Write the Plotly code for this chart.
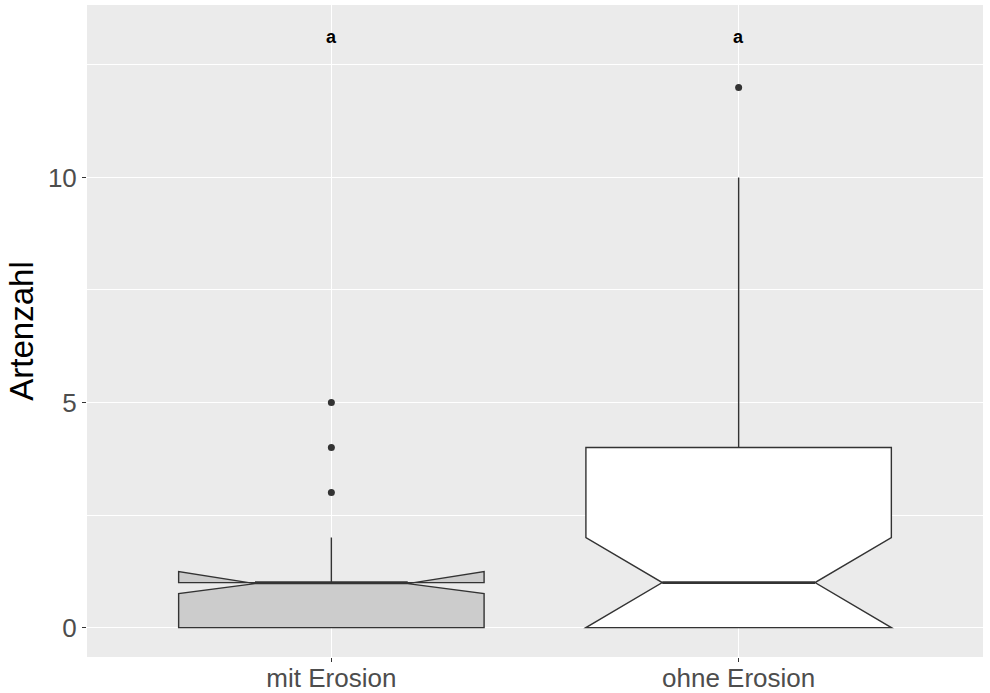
import plotly.graph_objects as go

categories = ["mit Erosion", "ohne Erosion"]
positions = [1, 2]
q1 = [0, 0]
median = [1, 1]
q3 = [1, 4]
lowerfence = [0, 0]
upperfence = [2, 10]
notchspan = [0.245, 1.0]
fills = ["#CCCCCC", "#FFFFFF"]
outlier_x = [1, 1, 1, 2]
outlier_y = [3, 4, 5, 12]
letters = ["a", "a"]
letter_y = 13.12

BOX_WIDTH = 0.75

fig = go.Figure()
for i in range(len(categories)):
    fig.add_trace(go.Box(
        x=[positions[i]], q1=[q1[i]], median=[median[i]], q3=[q3[i]],
        lowerfence=[lowerfence[i]], upperfence=[upperfence[i]],
        notchspan=[notchspan[i]], notched=True, notchwidth=0.25,
        width=BOX_WIDTH, whiskerwidth=0, boxpoints=False,
        fillcolor=fills[i], line=dict(color="#333333", width=1.4),
        showlegend=False, hoverinfo="skip"))
    # thicker median line (ggplot fatten)
    fig.add_shape(type="line", xref="x", yref="y",
                  x0=positions[i] - BOX_WIDTH / 4, x1=positions[i] + BOX_WIDTH / 4,
                  y0=median[i], y1=median[i],
                  line=dict(color="#333333", width=2.6))

fig.add_trace(go.Scatter(x=outlier_x, y=outlier_y, mode="markers",
                         marker=dict(color="#333333", size=7),
                         showlegend=False, hoverinfo="skip"))

for p, t in zip(positions, letters):
    fig.add_annotation(x=p, y=letter_y, text="<b>%s</b>" % t, showarrow=False,
                       font=dict(size=18, color="black", family="Liberation Sans"))

fig.update_layout(
    width=990, height=693,
    margin=dict(l=87, r=7, t=5, b=36),
    paper_bgcolor="white", plot_bgcolor="#EBEBEB",
    font=dict(family="Liberation Sans", color="#4D4D4D"),
)
fig.update_xaxes(range=[0.4, 2.6], tickvals=positions, ticktext=categories,
                 showgrid=True, gridcolor="white", gridwidth=1.2, automargin=False,
                 zeroline=False, ticks="outside", ticklen=4, tickcolor="#333333",
                 ticklabelstandoff=-6,
                 tickfont=dict(size=26, color="#4D4D4D"), showline=False)
fig.update_yaxes(range=[-0.653, 13.83], tickvals=[0, 5, 10], ticktext=["0", "5", "10"],
                 showgrid=True, gridcolor="white", gridwidth=1.2, automargin=False,
                 minor=dict(tickvals=[2.5, 7.5, 12.5], showgrid=True, gridcolor="white", gridwidth=0.6),
                 zeroline=False, ticks="outside", ticklen=4, tickcolor="#333333",
                 tickfont=dict(size=26, color="#4D4D4D"),
                 title=dict(text="Artenzahl", font=dict(size=33, color="black"), standoff=4))

fig.write_html("out.html", config={"displayModeBar": False},
               post_script="document.body.style.margin='0px';document.body.style.overflow='hidden';")
